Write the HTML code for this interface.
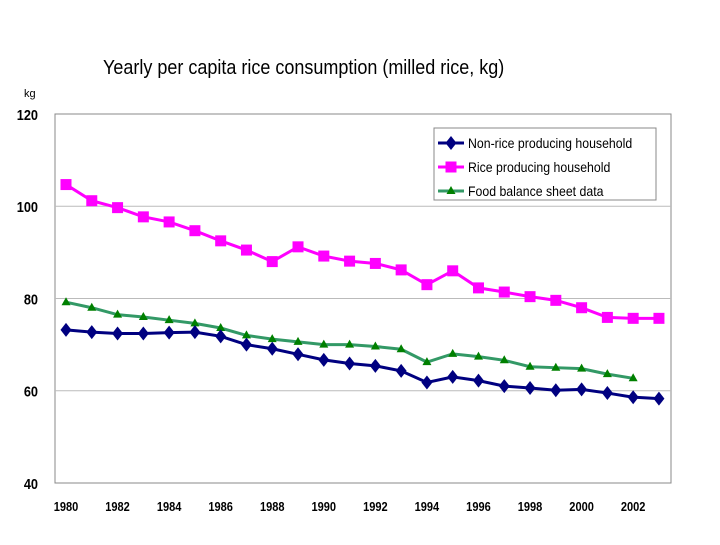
<!DOCTYPE html>
<html><head><meta charset="utf-8"><style>
body{margin:0;background:#fff;width:720px;height:540px;overflow:hidden}
svg text{font-family:"Liberation Sans",sans-serif}
</style></head><body>
<svg width="720" height="540" id="c">
<text x="103" y="74" font-size="20" transform="scale(0.9,1)" transform-origin="103 74">Yearly per capita rice consumption (milled rice, kg)</text>
<text x="24" y="97" font-size="11">kg</text>
<rect x="55" y="114" width="616" height="369" fill="none" stroke="#888"/>
<g id="grid"></g><g id="series"></g>
<g>
<rect x="434" y="128" width="222" height="72" fill="#fff" stroke="#888"/>
</g>
</svg>
<script>
const years=[1980,1981,1982,1983,1984,1985,1986,1987,1988,1989,1990,1991,1992,1993,1994,1995,1996,1997,1998,1999,2000,2001,2002,2003];
const nonRice=[73.2,72.7,72.4,72.4,72.6,72.7,71.8,70,69.1,67.9,66.7,65.9,65.4,64.3,61.8,63,62.2,61,60.6,60.1,60.3,59.5,58.6,58.3];
const riceProd=[104.7,101.2,99.7,97.7,96.6,94.7,92.5,90.5,88,91.2,89.2,88.1,87.6,86.2,83,86,82.3,81.4,80.4,79.6,78,75.9,75.7,75.7];
const foodBal=[79.2,78,76.5,76,75.3,74.6,73.6,72,71.2,70.6,70,70,69.6,69,66.2,68,67.4,66.6,65.2,65,64.8,63.6,62.7];
const yTicks=[40,60,80,100,120];
const xTicks=[1980,1982,1984,1986,1988,1990,1992,1994,1996,1998,2000,2002];
const NS="http://www.w3.org/2000/svg";
const X=y=>66+(y-1980)*25.78;
const Y=v=>483-(v-40)*4.6125;
function mk(t,a,p){const e=document.createElementNS(NS,t);for(const k in a)e.setAttribute(k,a[k]);p.appendChild(e);return e;}
const g=document.getElementById('grid'),s=document.getElementById('series'),svg=document.getElementById('c');
yTicks.forEach(v=>{
 if(v>40&&v<120){const l=mk('line',{x1:55,x2:671,y1:Y(v),y2:Y(v),stroke:'#bbb'},g);
 
 }
 const t=mk('text',{x:38,y:Y(v)+6,'font-size':15,'text-anchor':'end','font-weight':'bold',transform:'scale(0.85,1)','transform-origin':'38 '+(Y(v)+6)},svg);t.textContent=v;
 
 
});
xTicks.forEach(yr=>{
 const t=mk('text',{x:X(yr),y:511,'font-size':13,'text-anchor':'middle','font-weight':'bold',transform:'scale(0.85,1)','transform-origin':X(yr)+' 511'},svg);t.textContent=yr;
 
 
});
function marker(type,x,y,c,p){
 if(type==='d')return mk('polygon',{points:`${x},${y-7} ${x+5.5},${y} ${x},${y+7} ${x-5.5},${y}`,fill:c},p);
 if(type==='s')return mk('rect',{x:x-5.5,y:y-5.5,width:11,height:11,fill:c},p);
 return mk('polygon',{points:`${x},${y-5} ${x+4.5},${y+3} ${x-4.5},${y+3}`,fill:c},p);
}
function series(vals,color,line,type,name){
 const gg=mk('g',{},s);
 
 
 mk('polyline',{points:vals.map((v,i)=>X(years[i])+','+Y(v)).join(' '),fill:'none',stroke:line,'stroke-width':3},gg);
 vals.forEach((v,i)=>{const m=marker(type,X(years[i]),Y(v),color,gg);
  
  });
}
series(foodBal,'#008000','#339966','t','food-balance-series');
series(nonRice,'#000080','#000080','d','non-rice-series');
series(riceProd,'#ff00ff','#ff00ff','s','rice-producing-series');
const leg=[['Non-rice producing household','#000080','#000080','d'],['Rice producing household','#ff00ff','#ff00ff','s'],['Food balance sheet data','#008000','#339966','t']];
leg.forEach((e,i)=>{
 const y=143+i*24;
 const gg=mk('g',{},svg);
 
 
 mk('line',{x1:438,x2:464,y1:y,y2:y,stroke:e[2],'stroke-width':3},gg);
 marker(e[3],451,y,e[1],gg);
 const t=mk('text',{x:468,y:y+5,'font-size':14,transform:'scale(0.88,1)','transform-origin':'468 '+(y+5)},gg);t.textContent=e[0];
});
</script>
</body></html>
